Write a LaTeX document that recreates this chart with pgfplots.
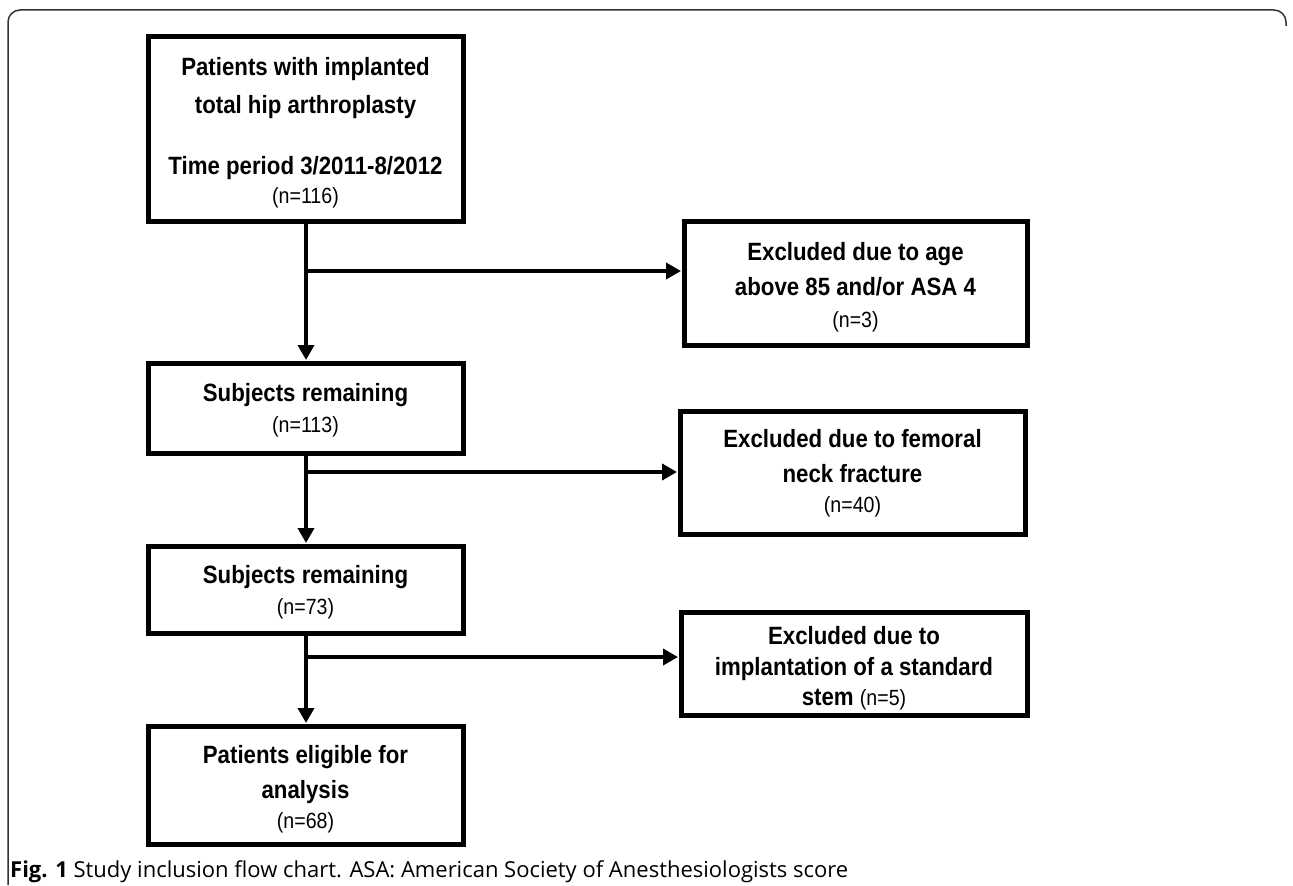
\documentclass[border=0pt]{standalone}
\usepackage{pgfplots}
\pgfplotsset{compat=1.18}
\usepackage{fontspec}
\setmainfont{Liberation Sans}
\newfontfamily\boxfont{Liberation Sans}[FakeStretch=0.89]
\newfontfamily\capfont{Open Sans}
\usetikzlibrary{arrows.meta}
\begin{document}
\begin{tikzpicture}
\begin{axis}[
  width=1293bp, height=885bp, scale only axis,
  xmin=0, xmax=1293, ymin=0, ymax=885, y dir=reverse,
  hide axis, clip=false]
\path (axis cs:0,0) rectangle (axis cs:1293,885);
% frame
\draw[line width=1.5bp, black!80, rounded corners=12bp] (axis cs:8,885) -- (axis cs:8,10) -- (axis cs:1286,10) -- (axis cs:1286,26);
% boxes
\tikzset{bx/.style={line width=5bp, black}}
\draw[bx] (axis cs:148,37) rectangle (axis cs:463,221);
\draw[bx] (axis cs:684,221) rectangle (axis cs:1027,345);
\draw[bx] (axis cs:148,363) rectangle (axis cs:463,453);
\draw[bx] (axis cs:680,411) rectangle (axis cs:1025,534);
\draw[bx] (axis cs:148,546) rectangle (axis cs:463,633);
\draw[bx] (axis cs:681,612) rectangle (axis cs:1027,715);
\draw[bx] (axis cs:148,726) rectangle (axis cs:463,844);
% connectors
\tikzset{ar/.style={line width=3.6bp, black, -{Triangle[length=15bp,width=16bp]}}}
\addplot[ar] coordinates {(306,223) (306,360)};
\addplot[ar] coordinates {(306,455) (306,543)};
\addplot[ar] coordinates {(306,635) (306,723)};
\addplot[ar] coordinates {(308,271) (681,271)};
\addplot[ar] coordinates {(308,472) (677,472)};
\addplot[ar] coordinates {(308,657) (678,657)};
% texts
\tikzset{bt/.style={anchor=base, inner sep=0pt, font=\boxfont\fontsize{25bp}{30bp}\selectfont\bfseries},
         nt/.style={anchor=base, inner sep=0pt, font=\boxfont\fontsize{22bp}{26bp}\selectfont}}
\node[bt] at (axis cs:305.5,76) {Patients with implanted};
\node[bt] at (axis cs:305.5,114) {total hip arthroplasty};
\node[bt] at (axis cs:305.5,174) {Time period 3/2011-8/2012};
\node[nt] at (axis cs:305.5,203) {(n=116)};
\node[bt] at (axis cs:855.5,260) {Excluded due to age};
\node[bt] at (axis cs:855.5,295) {above 85 and/or ASA 4};
\node[nt] at (axis cs:855.5,327) {(n=3)};
\node[bt] at (axis cs:305.5,401) {Subjects remaining};
\node[nt] at (axis cs:305.5,432) {(n=113)};
\node[bt] at (axis cs:852.5,447) {Excluded due to femoral};
\node[bt] at (axis cs:852.5,482) {neck fracture};
\node[nt] at (axis cs:852.5,512) {(n=40)};
\node[bt] at (axis cs:305.5,583) {Subjects remaining};
\node[nt] at (axis cs:305.5,614) {(n=73)};
\node[bt] at (axis cs:854,644) {Excluded due to};
\node[bt] at (axis cs:854,675) {implantation of a standard};
\node[bt] at (axis cs:854,705) {stem {\mdseries\fontsize{22bp}{26bp}\selectfont (n=5)}};
\node[bt] at (axis cs:305.5,763) {Patients eligible for};
\node[bt] at (axis cs:305.5,798) {analysis};
\node[nt] at (axis cs:305.5,828) {(n=68)};
\node[anchor=base west, inner sep=0pt, font=\capfont\fontsize{22bp}{26bp}\selectfont] at (axis cs:10,877) {\textbf{Fig. 1} Study inclusion flow chart. ASA: American Society of Anesthesiologists score};
\end{axis}
\end{tikzpicture}
\end{document}
